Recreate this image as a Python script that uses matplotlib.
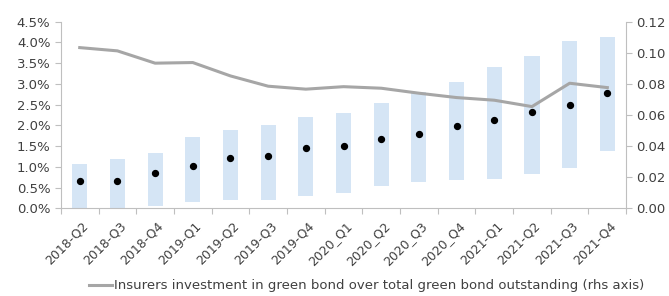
import matplotlib.pyplot as plt
import numpy as np

quarters = ['2018-Q2', '2018-Q3', '2018-Q4', '2019-Q1', '2019-Q2', '2019-Q3', '2019-Q4',
            '2020_Q1', '2020_Q2', '2020_Q3', '2020_Q4', '2021-Q1', '2021-Q2', '2021-Q3', '2021-Q4']
range_low = [0.0, 0.0, 0.06, 0.15, 0.19, 0.19, 0.30, 0.38, 0.53, 0.64, 0.69, 0.71, 0.84, 0.97, 1.38]
range_high = [1.08, 1.19, 1.33, 1.71, 1.89, 2.00, 2.19, 2.30, 2.53, 2.80, 3.05, 3.40, 3.66, 4.04, 4.13]
median = [0.67, 0.65, 0.86, 1.03, 1.21, 1.26, 1.45, 1.50, 1.66, 1.79, 1.99, 2.14, 2.32, 2.49, 2.78]
green_share = [0.1033, 0.1012, 0.0933, 0.0937, 0.0851, 0.0785, 0.0766, 0.0782, 0.0772,
               0.0740, 0.0712, 0.0695, 0.0654, 0.0804, 0.0776]

txt = '#404040'
axc = '#bfbfbf'
plt.rcParams['font.family'] = 'DejaVu Sans'

fig = plt.figure(figsize=(6.69, 2.96), dpi=100)
ax = fig.add_axes([0.091, 0.296, 0.845, 0.631])
x = np.arange(len(quarters))
heights = np.array(range_high) - np.array(range_low)
ax.bar(x, heights, bottom=range_low, width=0.4, color='#d5e5f5', zorder=1)
ax.scatter(x, median, s=18, color='black', zorder=3)
ax.set_ylim(0, 4.5)
ax.set_yticks(np.arange(0, 4.51, 0.5))
ax.set_yticklabels([f'{v:.1f}%' for v in np.arange(0, 4.51, 0.5)])
ax.set_xlim(-0.5, len(quarters) - 0.5)
ax.set_xticks(np.arange(-0.5, len(quarters), 1.0))
ax.set_xticklabels([])
ax.set_xticks(x + 0.05, minor=True)
ax.set_xticklabels(quarters, minor=True, rotation=45, ha='right', rotation_mode='anchor',
                   fontsize=9, color=txt)
ax.tick_params(axis='x', which='minor', length=0, pad=8)
ax.tick_params(axis='x', which='major', length=4, color=axc)
ax.tick_params(axis='y', length=4, color=axc, labelsize=9.5, labelcolor=txt)
for s in ['top', 'right']:
    ax.spines[s].set_visible(False)
for s in ['left', 'bottom']:
    ax.spines[s].set_color(axc)

ax2 = ax.twinx()
ax2.plot(x, green_share, color='#a6a6a6', lw=2.2, zorder=2,
         label='Insurers investment in green bond over total green bond outstanding (rhs axis)')
ax2.set_ylim(0, 0.12)
ax2.set_yticks(np.arange(0, 0.121, 0.02))
ax2.set_yticklabels([f'{v:.2f}' for v in np.arange(0, 0.121, 0.02)])
ax2.tick_params(axis='y', length=4, color=axc, labelsize=9.5, labelcolor=txt)
for s in ['top', 'left', 'bottom']:
    ax2.spines[s].set_visible(False)
ax2.spines['right'].set_color(axc)

fig.legend(loc='center', bbox_to_anchor=(0.548, 0.035), frameon=False, fontsize=9.5,
           labelcolor=txt, handlelength=1.75, handletextpad=0.15)

fig.savefig('out.png', dpi=100)
